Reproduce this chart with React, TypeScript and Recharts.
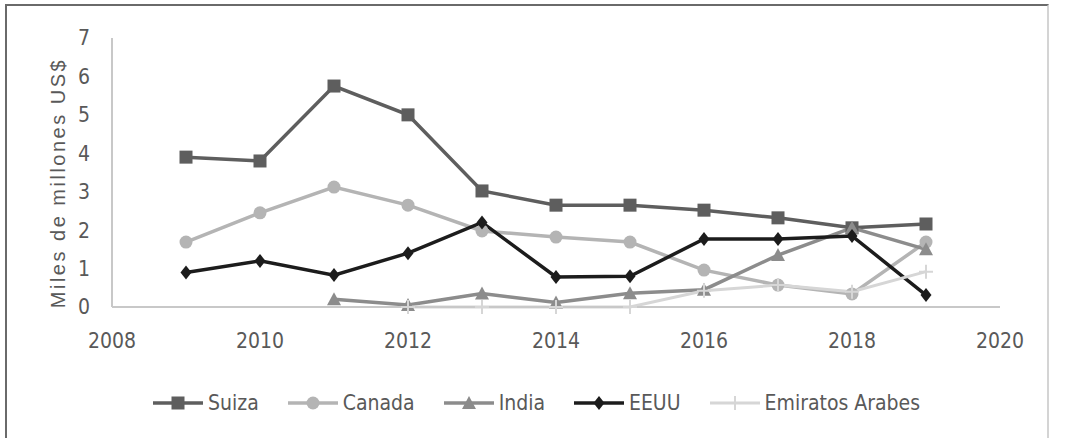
import React from 'react';
import { LineChart, Line, XAxis, YAxis, Legend, Label } from 'recharts';

// Years on the x axis, one value per year (null where the country has no data)
const years = [2009, 2010, 2011, 2012, 2013, 2014, 2015, 2016, 2017, 2018, 2019];
const suiza = [3.9, 3.8, 5.75, 5.0, 3.02, 2.65, 2.65, 2.52, 2.32, 2.06, 2.16];
const canada = [1.69, 2.45, 3.12, 2.65, 1.98, 1.82, 1.69, 0.96, 0.57, 0.34, 1.69];
const india = [null, null, 0.2, 0.05, 0.35, 0.12, 0.36, 0.45, 1.35, 2.06, 1.5];
const eeuu = [0.9, 1.2, 0.83, 1.4, 2.2, 0.78, 0.8, 1.77, 1.77, 1.85, 0.31];
const emiratos = [null, null, null, 0, 0, 0, 0, 0.42, 0.57, 0.4, 0.92];

const xTicks = [2008, 2010, 2012, 2014, 2016, 2018, 2020];
const yTicks = [0, 1, 2, 3, 4, 5, 6, 7];

const data = years.map((year, i) => ({
  year,
  suiza: suiza[i],
  canada: canada[i],
  india: india[i],
  eeuu: eeuu[i],
  emiratos: emiratos[i],
}));

const FONT = "'Liberation Sans Narrow', 'DejaVu Sans Condensed', sans-serif";
const TEXT = '#595959';

type Shape = 'square' | 'circle' | 'triangle' | 'diamond' | 'plus';

const series: { key: string; name: string; color: string; shape: Shape; width: number }[] = [
  { key: 'suiza', name: 'Suiza', color: '#5e5e5e', shape: 'square', width: 3.5 },
  { key: 'canada', name: 'Canada', color: '#b4b4b4', shape: 'circle', width: 3.5 },
  { key: 'india', name: 'India', color: '#8c8c8c', shape: 'triangle', width: 3.5 },
  { key: 'eeuu', name: 'EEUU', color: '#1c1c1c', shape: 'diamond', width: 3.5 },
  { key: 'emiratos', name: 'Emiratos Arabes', color: '#d6d6d6', shape: 'plus', width: 3 },
];

const marker = (shape: Shape, cx: number, cy: number, color: string, key?: string) => {
  switch (shape) {
    case 'square':
      return <rect key={key} x={cx - 6.5} y={cy - 6.5} width={13} height={13} fill={color} />;
    case 'circle':
      return <circle key={key} cx={cx} cy={cy} r={6.5} fill={color} />;
    case 'triangle':
      return <path key={key} d={`M${cx},${cy - 7}L${cx + 7},${cy + 6}L${cx - 7},${cy + 6}Z`} fill={color} />;
    case 'diamond':
      return <path key={key} d={`M${cx},${cy - 7}L${cx + 5.5},${cy}L${cx},${cy + 7}L${cx - 5.5},${cy}Z`} fill={color} />;
    default:
      return (
        <path key={key} d={`M${cx - 7},${cy}H${cx + 7}M${cx},${cy - 7}V${cy + 7}`} stroke={color} strokeWidth={2} fill="none" />
      );
  }
};

const makeDot = (shape: Shape, color: string) => (props: any) => {
  const { cx, cy, index, value } = props;
  if (value == null || cx == null || cy == null) return <g key={`e-${index}`} />;
  return marker(shape, cx, cy, color, `d-${index}`);
};

const LegendContent = () => (
  <div style={{ display: 'flex', alignItems: 'center', paddingLeft: 153, height: 30, fontFamily: FONT, fontSize: 21, color: TEXT }}>
    {series.map((s) => (
      <div key={s.key} style={{ display: 'flex', alignItems: 'center', marginRight: 29 }}>
        <svg width={50} height={20} style={{ marginRight: 5 }}>
          <line x1={0} y1={10} x2={50} y2={10} stroke={s.color} strokeWidth={s.width} />
          {marker(s.shape, 25, 10, s.color)}
        </svg>
        <span>{s.name}</span>
      </div>
    ))}
  </div>
);

const AxisTitle = (props: any) => {
  const { viewBox } = props;
  const x = viewBox.x + 6;
  const y = 183;
  return (
    <text
      x={x}
      y={y}
      transform={`rotate(-90, ${x}, ${y})`}
      textAnchor="middle"
      dominantBaseline="central"
      fill={TEXT}
      style={{ fontFamily: "'Liberation Sans', sans-serif", fontSize: 20, letterSpacing: 2.5 }}
    >
      Miles de millones US$
    </text>
  );
};

export default function App() {
  return (
    <div style={{ position: 'absolute', left: 0, top: 0, width: 1065, height: 438, background: '#fff', overflow: 'hidden' }}>
      <div
        style={{
          position: 'absolute',
          left: 5,
          top: 4,
          width: 1044,
          height: 460,
          borderTop: '2px solid #6a6a6a',
          borderLeft: '2px solid #6a6a6a',
          borderRight: '2px solid #d4d4d4',
          boxSizing: 'border-box',
        }}
      />
      <LineChart width={1065} height={438} data={data} margin={{ top: 38, right: 65, left: 52, bottom: 61 }}>
        <XAxis
          dataKey="year"
          type="number"
          domain={[2008, 2020]}
          ticks={xTicks}
          height={40}
          tickLine={false}
          tickMargin={20}
          axisLine={{ stroke: '#c8c8c8', strokeWidth: 2 }}
          tick={{ fill: TEXT, fontSize: 21, fontFamily: FONT }}
        />
        <YAxis
          domain={[0, 7]}
          ticks={yTicks}
          width={60}
          tickLine={false}
          tickMargin={16}
          axisLine={{ stroke: '#c8c8c8', strokeWidth: 2 }}
          tick={{ fill: TEXT, fontSize: 21, fontFamily: FONT }}
        >
          <Label content={<AxisTitle />} />
        </YAxis>
        <Legend
          verticalAlign="bottom"
          content={<LegendContent />}
          wrapperStyle={{ top: 388, left: 0, width: 1065, bottom: 'auto' }}
        />
        {series.map((s) => (
          <Line
            key={s.key}
            dataKey={s.key}
            name={s.name}
            stroke={s.color}
            strokeWidth={s.width}
            dot={makeDot(s.shape, s.color)}
            activeDot={false}
            isAnimationActive={false}
          />
        ))}
      </LineChart>
    </div>
  );
}
